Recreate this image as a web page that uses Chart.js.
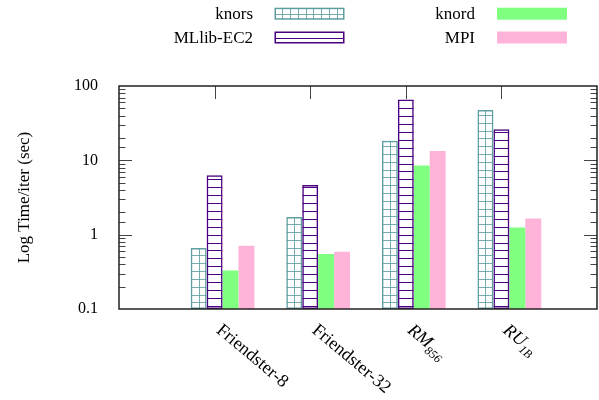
<!DOCTYPE html>
<html lang="en">
<head>
<meta charset="UTF-8">
<title>Log Time/iter</title>
<script src="https://cdn.jsdelivr.net/npm/chart.js"></script>
<style>
  html, body { margin: 0; padding: 0; background: #fff; }
  #wrap { width: 599px; height: 400px; }
</style>
</head>
<body>
<div id="wrap"><canvas id="chart"></canvas></div>
<script>
// values (seconds per iteration, log axis)
const categories = ['Friendster-8', 'Friendster-32', 'RM856', 'RU1B'];
const knors = [0.66, 1.73, 18.4, 47.6];
const mllib = [6.3, 4.65, 66, 26.2];
const knord = [0.33, 0.55, 8.5, 1.25];
const mpi = [0.71, 0.59, 13.4, 1.65];
const yTicks = [0.1, 1, 10, 100];
// how each category label is typeset: [text, subscript, italic]
const labelParts = [['Friendster-8', '', false], ['Friendster-32', '', false], ['RM', '856', true], ['RU', '1B', true]];

const SERIF = '"Liberation Serif", "Times New Roman", serif';
const TEAL = '#5f9ea0';
const PURPLE = '#4b0082';
const GREEN = '#80ff80';
const PINK = '#ffb3d9';

// empty slot on both ends so the axis runs one step past the first/last group
const pad = arr => [null, ...arr, null];

function isPow10(v) {
    const l = Math.log10(v);
    return Math.abs(l - Math.round(l)) < 1e-6;
}

// draws the gnuplot-like fill patterns inside a rectangle
function hatch(ctx, l, t, r, b, h, anchorY) {
    ctx.save();
    ctx.beginPath();
    ctx.rect(l, t, r - l, b - t);
    ctx.clip();
    ctx.strokeStyle = h.color;
    ctx.lineWidth = 1;
    ctx.beginPath();
    for (let yy = anchorY; yy > t; yy -= h.step) {
        if (yy < b) {
            const py = Math.round(yy) + 0.5;
            ctx.moveTo(l, py);
            ctx.lineTo(r, py);
        }
    }
    if (h.grid) {
        const n = Math.max(1, Math.round((r - l) / 8));
        const s = (r - l) / n;
        for (let k = 1; k < n; k++) {
            const px = Math.round(l + k * s) + 0.5;
            ctx.moveTo(px, t);
            ctx.lineTo(px, b);
        }
    }
    ctx.stroke();
    ctx.restore();
}

const extras = {
    id: 'extras',
    beforeDatasetsDraw(chart) {
        const ctx = chart.ctx, a = chart.chartArea;
        const ys = chart.scales.y, xs = chart.scales.x;
        ctx.save();
        ctx.strokeStyle = '#444';
        ctx.lineWidth = 1;
        ctx.beginPath();
        ys.ticks.forEach(t => {
            const py = Math.round(ys.getPixelForValue(t.value)) + 0.5;
            if (py <= a.top + 1 || py >= a.bottom - 1) return;
            const len = isPow10(t.value) ? 13 : 6.5;
            ctx.moveTo(a.left, py); ctx.lineTo(a.left + len, py);
            ctx.moveTo(a.right, py); ctx.lineTo(a.right - len, py);
        });
        // category ticks only show along the top edge
        for (let i = 1; i <= categories.length; i++) {
            const px = Math.round(xs.getPixelForValue(i)) + 0.5;
            ctx.moveTo(px, a.top); ctx.lineTo(px, a.top + 13);
        }
        ctx.stroke();
        ctx.restore();
    },
    afterDatasetsDraw(chart) {
        const ctx = chart.ctx, a = chart.chartArea;
        chart.data.datasets.forEach((ds, i) => {
            if (!ds.hatch) return;
            chart.getDatasetMeta(i).data.forEach(bar => {
                const p = bar.getProps(['x', 'y', 'base', 'width'], true);
                if (!isFinite(p.y) || !isFinite(p.base)) return;
                const l = p.x - p.width / 2, r = p.x + p.width / 2;
                hatch(ctx, l, Math.min(p.y, p.base), r, Math.max(p.y, p.base), ds.hatch, a.bottom - ds.hatch.offset);
            });
        });
        // plot frame
        ctx.save();
        ctx.strokeStyle = '#222';
        ctx.lineWidth = 1.5;
        ctx.strokeRect(a.left, a.top, a.right - a.left, a.bottom - a.top);
        ctx.restore();
    },
    afterDraw(chart) {
        const ctx = chart.ctx, a = chart.chartArea, xs = chart.scales.x;
        ctx.save();
        // key, two columns, text right-aligned in front of the sample
        const keys = [[1, 0, 0], [2, 0, 1], [3, 1, 0], [4, 1, 1]];
        const textRight = [253, 475], boxLeft = [274.5, 497], rowY = [13.7, 37.5];
        const bw = 70, bh = 12;
        ctx.font = '17px ' + SERIF;
        ctx.textAlign = 'right';
        ctx.textBaseline = 'middle';
        keys.forEach(([di, col, row]) => {
            const ds = chart.data.datasets[di];
            ctx.fillStyle = '#000';
            ctx.fillText(ds.label, textRight[col], rowY[row] + 1);
            const l = boxLeft[col], t = rowY[row] - bh / 2;
            if (ds.hatch) {
                hatch(ctx, l, t, l + bw, t + bh, ds.hatch, t + bh / 2);
                ctx.strokeStyle = ds.borderColor;
                ctx.lineWidth = 1.5;
                ctx.strokeRect(l + 0.75, t + 0.75, bw - 1.5, bh - 1.5);
            } else {
                ctx.fillStyle = ds.backgroundColor;
                ctx.fillRect(l, t, bw, bh);
            }
        });
        // rotated category labels, with subscripts where needed
        ctx.fillStyle = '#000';
        ctx.textAlign = 'left';
        labelParts.forEach(([main, sub, it], i) => {
            const px = xs.getPixelForValue(i + 1);
            ctx.save();
            ctx.translate(px + 4, a.bottom + 19);
            ctx.rotate(40 * Math.PI / 180);
            const style = it ? 'italic ' : '';
            ctx.font = style + '18px ' + SERIF;
            ctx.fillText(main, 0, 0);
            if (sub) {
                const w = ctx.measureText(main).width;
                ctx.font = style + '12px ' + SERIF;
                ctx.fillText(sub, w, 6);
            }
            ctx.restore();
        });
        ctx.restore();
    }
};

new Chart(document.getElementById('chart'), {
    type: 'bar',
    data: {
        labels: pad(categories),
        datasets: [
            { label: '', data: pad(categories.map(() => null)) },
            { label: 'knors', data: pad(knors), backgroundColor: 'rgba(0,0,0,0)', borderColor: TEAL, borderWidth: 1.5,
              hatch: { color: 'rgba(95,158,160,0.85)', step: 7.8, offset: 6.7, grid: true } },
            { label: 'MLlib-EC2', data: pad(mllib), backgroundColor: 'rgba(0,0,0,0)', borderColor: PURPLE, borderWidth: 1.5,
              hatch: { color: PURPLE, step: 7.9, offset: 3.3, grid: false } },
            { label: 'knord', data: pad(knord), backgroundColor: GREEN, borderWidth: 0 },
            { label: 'MPI', data: pad(mpi), backgroundColor: PINK, borderWidth: 0 }
        ]
    },
    options: {
        responsive: true,
        maintainAspectRatio: false,
        animation: false,
        events: [],
        layout: { padding: { top: 86, right: 2, bottom: 0, left: 0 } },
        datasets: { bar: { categoryPercentage: 5 / 6, barPercentage: 1, borderSkipped: false } },
        plugins: { legend: { display: false }, tooltip: { enabled: false } },
        scales: {
            x: {
                offset: false,
                grid: { display: false, drawTicks: false },
                border: { display: false },
                ticks: { display: false },
                afterFit: s => { s.height = 91; }
            },
            y: {
                type: 'logarithmic',
                min: 0.1,
                max: 100,
                grid: { display: false, drawTicks: false },
                border: { display: false },
                ticks: {
                    autoSkip: false,
                    padding: 21,
                    color: '#000',
                    font: { family: SERIF, size: 16 },
                    callback: v => (isPow10(v) ? String(yTicks.find(t => Math.abs(t - v) < 1e-9) ?? v) : '')
                },
                title: {
                    display: true,
                    text: 'Log Time/iter (sec)',
                    color: '#000',
                    font: { family: SERIF, size: 17 },
                    padding: { top: 14, bottom: 0 }
                },
                afterFit: s => { s.width = 119; }
            }
        }
    },
    plugins: [extras]
});
</script>
</body>
</html>
